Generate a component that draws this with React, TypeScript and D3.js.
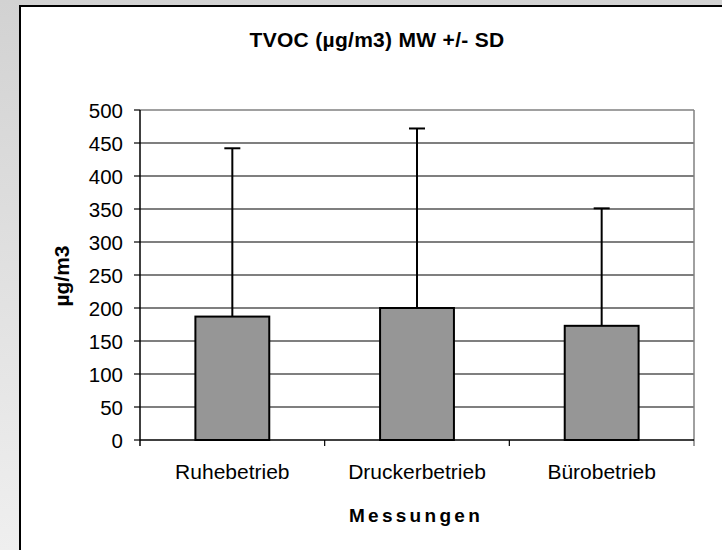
import React from "react";
import * as d3 from "d3";

const categories = ["Ruhebetrieb", "Druckerbetrieb", "Bürobetrieb"];
const means = [187, 200, 173];
const sds = [255, 272, 178];
const yTicks = [0, 50, 100, 150, 200, 250, 300, 350, 400, 450, 500];
const title = "TVOC (µg/m3) MW +/- SD";
const yLabel = "µg/m3";
const xLabel = "Messungen";

const W = 722;
const H = 550;
const plot = { left: 140, right: 694, top: 110, bottom: 440 };
const font = "Arial, 'Liberation Sans', Helvetica, sans-serif";

export default function App() {
  const x = d3
    .scaleBand<string>()
    .domain(categories)
    .range([plot.left, plot.right])
    .paddingInner(0.6)
    .paddingOuter(0.3);
  const band = (plot.right - plot.left) / categories.length;
  const y = d3.scaleLinear().domain([0, 500]).range([plot.bottom, plot.top]);
  const boundaries = d3.range(categories.length + 1).map((i) => plot.left + i * band);

  return (
    <div style={{ position: "fixed", left: 0, top: 0, width: W, height: H }}>
      <svg width={W} height={H} style={{ display: "block" }}>
        <defs>
          <linearGradient id="bg" x1="0" y1="0" x2="0" y2="1">
            <stop offset="0" stopColor="#d2d2d2" />
            <stop offset="1" stopColor="#efefef" />
          </linearGradient>
        </defs>
        <rect x={0} y={0} width={W} height={H} fill="url(#bg)" />
        <rect x={20} y={6} width={W + 10} height={H + 10} fill="#fff" stroke="#000" strokeWidth={2} />

        <text x={377} y={47} textAnchor="middle" fontFamily={font} fontWeight="bold" fontSize={21} letterSpacing={0.3} fill="#000">
          {title}
        </text>

        {/* gridlines */}
        {yTicks.slice(1, -1).map((t) => (
          <line key={t} x1={plot.left} x2={plot.right} y1={y(t)} y2={y(t)} stroke="#000" strokeWidth={1.2} />
        ))}
        {/* plot top/right border */}
        <line x1={plot.left} x2={plot.right} y1={plot.top} y2={plot.top} stroke="#808080" strokeWidth={1.5} />
        <line x1={plot.right} x2={plot.right} y1={plot.top} y2={plot.bottom + 6} stroke="#808080" strokeWidth={1.5} />

        {/* y axis */}
        <line x1={plot.left} x2={plot.left} y1={plot.top} y2={plot.bottom + 6} stroke="#000" strokeWidth={1.5} />
        {yTicks.map((t) => (
          <g key={t}>
            <line x1={plot.left - 6} x2={plot.left} y1={y(t)} y2={y(t)} stroke="#000" strokeWidth={1.2} />
            <text x={123} y={y(t) + 7.5} textAnchor="end" fontFamily={font} fontSize={20.5} fill="#000">
              {t}
            </text>
          </g>
        ))}

        {/* bars */}
        {categories.map((c, i) => (
          <rect
            key={c}
            x={x(c)!}
            y={y(means[i])}
            width={x.bandwidth()}
            height={y(0) - y(means[i])}
            fill="#969696"
            stroke="#000"
            strokeWidth={2}
          />
        ))}

        {/* error bars */}
        {categories.map((c, i) => {
          const cx = x(c)! + x.bandwidth() / 2;
          return (
            <g key={c} stroke="#000" strokeWidth={2}>
              <line x1={cx} x2={cx} y1={y(means[i])} y2={y(means[i] + sds[i])} />
              <line x1={cx - 8} x2={cx + 8} y1={y(means[i] + sds[i])} y2={y(means[i] + sds[i])} />
            </g>
          );
        })}

        {/* x axis */}
        <line x1={plot.left} x2={plot.right} y1={plot.bottom} y2={plot.bottom} stroke="#000" strokeWidth={1.5} />
        {boundaries.slice(1, -1).map((b, i) => (
          <line key={i} x1={b} x2={b} y1={plot.bottom} y2={plot.bottom + 6} stroke="#000" strokeWidth={1.2} />
        ))}
        {categories.map((c) => (
          <text key={c} x={x(c)! + x.bandwidth() / 2} y={479} textAnchor="middle" fontFamily={font} fontSize={21} fill="#000">
            {c}
          </text>
        ))}

        <text x={416} y={522} textAnchor="middle" fontFamily={font} fontWeight="bold" fontSize={19} letterSpacing={3.3} fill="#000">
          {xLabel}
        </text>
        <text
          transform={`translate(69,276) rotate(-90)`}
          textAnchor="middle"
          fontFamily={font}
          fontWeight="bold"
          fontSize={21}
          fill="#000"
        >
          {yLabel}
        </text>
      </svg>
    </div>
  );
}
